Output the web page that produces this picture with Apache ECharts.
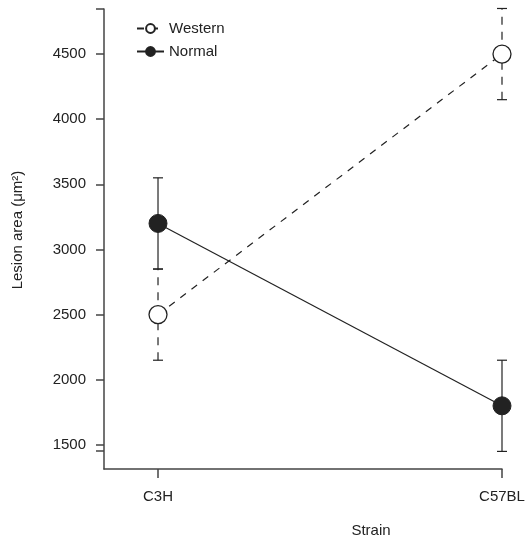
<!DOCTYPE html>
<html>
<head>
<meta charset="utf-8">
<script src="https://cdn.jsdelivr.net/npm/echarts@6/dist/echarts.min.js"></script>
<style>
  html, body { margin: 0; padding: 0; background: #fff; }
  #chart { width: 525px; height: 538px; }
</style>
</head>
<body>
<div id="chart"></div>
<script>
// strains on the x axis
var strains = ['C3H', 'C57BL']
// Western diet: mean and error (same units as y)
var westernMean = [2500, 4500]
var westernErr = [350, 350]
// Normal diet
var normalMean = [3200, 1800]
var normalErr = [350, 350]
// y tick labels
var yTicks = [1500, 2000, 2500, 3000, 3500, 4000, 4500]

var ink = '#222'
var font = 'Liberation Sans, Arial, sans-serif'

function points (means) {
  return means.map(function (v, i) { return [i, v] })
}
function bars (means, errs) {
  return means.map(function (v, i) { return [i, v - errs[i], v + errs[i]] })
}

function errorBar (dashed) {
  return function (params, api) {
    var x = api.value(0)
    var lo = api.coord([x, api.value(1)])
    var hi = api.coord([x, api.value(2)])
    var cap = 5
    var style = { stroke: ink, lineWidth: 1.2, fill: null }
    var dashStyle = { stroke: ink, lineWidth: 1.2, fill: null, lineDash: dashed ? [8, 7] : null }
    return {
      type: 'group',
      children: [
        { type: 'line', shape: { x1: lo[0], y1: lo[1], x2: hi[0], y2: hi[1] }, style: dashStyle },
        { type: 'line', shape: { x1: lo[0] - cap, y1: lo[1], x2: lo[0] + cap, y2: lo[1] }, style: style },
        { type: 'line', shape: { x1: hi[0] - cap, y1: hi[1], x2: hi[0] + cap, y2: hi[1] }, style: style }
      ]
    }
  }
}

var chart = echarts.init(document.getElementById('chart'))
var option = {
  animation: false,
  textStyle: { fontFamily: font },
  grid: { left: 104, right: 23, top: 9, bottom: 69, outerBoundsMode: 'none' },
  legend: {
    orient: 'vertical',
    left: 131,
    top: 16,
    itemWidth: 27,
    itemHeight: 11,
    itemGap: 8,
    textStyle: { fontSize: 15, color: ink },
    data: ['Western', 'Normal']
  },
  xAxis: {
    type: 'value',
    min: -0.157,
    max: 1,
    splitLine: { show: false },
    axisLine: { onZero: false, lineStyle: { color: '#444', width: 1.5 } },
    axisTick: { show: true, length: 9, customValues: [0, 1], lineStyle: { color: '#444', width: 1.5 } },
    axisLabel: {
      customValues: [0, 1],
      margin: 20,
      fontSize: 15,
      color: ink,
      formatter: function (v) { return strains[Math.round(v)] }
    }
  },
  yAxis: {
    type: 'value',
    min: 1315,
    max: 4846,
    splitLine: { show: false },
    axisLine: { show: true, onZero: false, lineStyle: { color: '#444', width: 1.5 } },
    axisTick: { show: true, length: 8, customValues: [1454].concat(yTicks, [4846]), lineStyle: { color: '#444', width: 1.5 } },
    axisLabel: {
      customValues: yTicks,
      margin: 18,
      fontSize: 15,
      color: ink,
      formatter: function (v) { return String(v) }
    }
  },
  graphic: [
    {
      type: 'text',
      x: 371,
      y: 531,
      style: { text: 'Strain', fontSize: 15, fill: ink, align: 'center', verticalAlign: 'middle', fontFamily: font }
    },
    {
      type: 'text',
      x: 18,
      y: 230,
      rotation: Math.PI / 2,
      style: {
        text: 'Lesion area (μm²)',
        fontSize: 15,
        fill: ink,
        align: 'center',
        verticalAlign: 'middle',
        fontFamily: font
      }
    }
  ],
  series: [
    {
      type: 'custom',
      name: 'westernErr',
      z: 1,
      renderItem: errorBar(true),
      data: bars(westernMean, westernErr)
    },
    {
      type: 'custom',
      name: 'normalErr',
      z: 1,
      renderItem: errorBar(false),
      data: bars(normalMean, normalErr)
    },
    {
      name: 'Western',
      type: 'line',
      z: 3,
      data: points(westernMean),
      symbol: 'circle',
      symbolSize: 18,
      lineStyle: { color: ink, width: 1.2, type: [7, 7] },
      itemStyle: { color: '#fff', borderColor: ink, borderWidth: 1.3 }
    },
    {
      name: 'Normal',
      type: 'line',
      z: 3,
      data: points(normalMean),
      symbol: 'circle',
      symbolSize: 18,
      lineStyle: { color: ink, width: 1.2 },
      itemStyle: { color: ink, borderColor: ink, borderWidth: 1 }
    }
  ]
}
chart.setOption(option)
</script>
</body>
</html>
